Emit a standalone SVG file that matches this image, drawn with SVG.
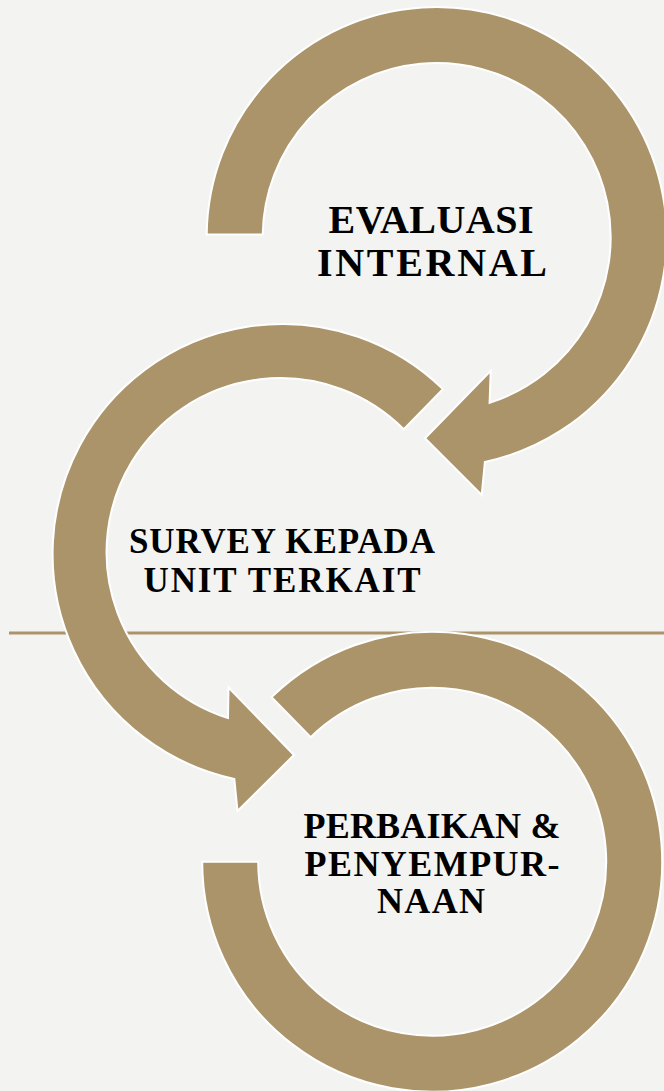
<svg xmlns="http://www.w3.org/2000/svg" width="664" height="1091" viewBox="0 0 664 1091">
  <defs>
    <style>
      .ring { fill: #AC946A; stroke: #FFFFFF; stroke-width: 2; stroke-linejoin: miter; }
      .label { font-family: "Liberation Serif", "Times New Roman", serif; font-weight: bold; fill: #000000; text-anchor: middle; }
    </style>
  </defs>

  <!-- page background -->
  <rect x="0" y="0" width="664" height="1091" fill="#F3F3F2"/>

  <!-- horizontal rule behind the cycle -->
  <g id="connectors">
    <line x1="9" y1="633" x2="664" y2="633" stroke="#AC946A" stroke-width="3"/>
  </g>

  <!-- step 3: closing ring, no arrowhead -->
  <g id="node-perbaikan">
    <path class="ring" d="M 271.6 697.1 A 230 230 0 1 1 202.2 861.7 L 258.2 861.7 A 174 174 0 1 0 310.7 737.2 Z"/>
    <text class="label" font-size="36" x="432" y="838" textLength="257" lengthAdjust="spacing">PERBAIKAN &amp;</text>
    <text class="label" font-size="36" x="432" y="876" textLength="255" lengthAdjust="spacing">PENYEMPUR-</text>
    <text class="label" font-size="36" x="431" y="913" textLength="108" lengthAdjust="spacing">NAAN</text>
  </g>

  <!-- step 2: counter-clockwise arrow pointing down-right -->
  <g id="node-survey">
    <path class="ring" d="M 442.9 389.1 A 230 230 0 1 0 234.3 778.9 L 237.5 811 L 294 755 L 228.5 687.5 L 228 718 A 174 174 0 1 1 403.8 429.3 Z"/>
    <text class="label" font-size="35" x="282" y="553" textLength="306" lengthAdjust="spacing">SURVEY KEPADA</text>
    <text class="label" font-size="35" x="282" y="592" textLength="277" lengthAdjust="spacing">UNIT TERKAIT</text>
  </g>

  <!-- step 1: clockwise arrow pointing down-left -->
  <g id="node-evaluasi">
    <path class="ring" d="M 206.7 234.5 A 230 230 0 1 1 484.9 461.9 L 481.7 495 L 425 438.3 L 490.7 370.7 L 489.6 402.8 A 174 174 0 1 0 262.7 234.5 Z"/>
    <text class="label" font-size="40" x="431" y="233" textLength="205" lengthAdjust="spacing">EVALUASI</text>
    <text class="label" font-size="40" x="432" y="276" textLength="230" lengthAdjust="spacing">INTERNAL</text>
  </g>
</svg>
